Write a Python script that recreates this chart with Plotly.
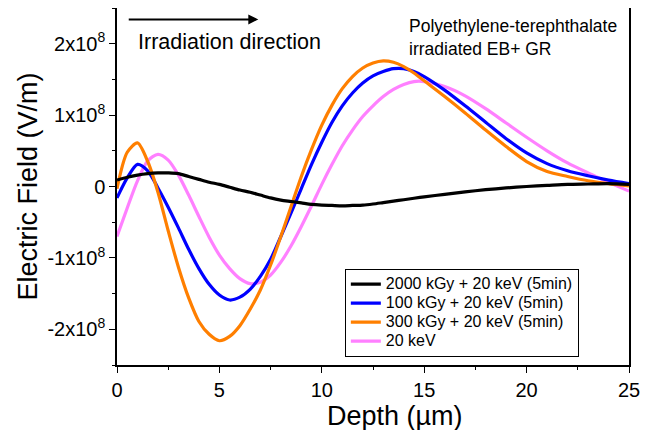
import plotly.graph_objects as go

# Depth in micrometres
depth = [0, 0.5, 1, 1.5, 2, 2.5, 3, 3.5, 4, 4.5, 5, 5.5, 6, 6.5, 7, 7.5, 8, 8.5, 9, 9.5,
         10, 10.5, 11, 11.5, 12, 12.5, 13, 13.5, 14, 14.5, 15, 16, 17, 18, 19, 20, 21, 22, 23, 24, 25]

# Electric field, in units of 1e8 V/m
e_2000 = [0.09, 0.13, 0.16, 0.18, 0.19, 0.19, 0.18, 0.14, 0.10, 0.06, 0.03, -0.01, -0.05, -0.08, -0.12,
          -0.16, -0.19, -0.21, -0.23, -0.25, -0.26, -0.265, -0.27, -0.265, -0.26, -0.245, -0.225, -0.205,
          -0.185, -0.165, -0.145, -0.11, -0.075, -0.045, -0.02, 0.0, 0.015, 0.03, 0.035, 0.04, 0.03]
e_100 = [-0.16, 0.12, 0.31, 0.22, -0.02, -0.29, -0.58, -0.88, -1.15, -1.37, -1.52, -1.59, -1.55, -1.44,
         -1.26, -1.02, -0.70, -0.37, -0.03, 0.31, 0.62, 0.90, 1.13, 1.31, 1.45, 1.55, 1.61, 1.65, 1.65,
         1.61, 1.54, 1.35, 1.13, 0.90, 0.67, 0.47, 0.32, 0.22, 0.15, 0.09, 0.04]
e_300 = [-0.03, 0.48, 0.61, 0.35, -0.08, -0.62, -1.13, -1.56, -1.89, -2.07, -2.16, -2.10, -1.95, -1.72,
         -1.45, -1.10, -0.70, -0.28, 0.14, 0.52, 0.86, 1.14, 1.37, 1.54, 1.66, 1.73, 1.76, 1.74, 1.68,
         1.59, 1.48, 1.26, 1.03, 0.79, 0.56, 0.35, 0.21, 0.14, 0.08, 0.04, 0.01]
e_20kev = [-0.70, -0.30, 0.08, 0.36, 0.45, 0.37, 0.16, -0.12, -0.42, -0.71, -0.96, -1.15, -1.29, -1.36,
           -1.34, -1.24, -1.06, -0.83, -0.56, -0.27, 0.03, 0.31, 0.57, 0.79, 0.98, 1.13, 1.26, 1.36,
           1.43, 1.47, 1.47, 1.40, 1.27, 1.09, 0.89, 0.69, 0.50, 0.33, 0.19, 0.06, -0.065]

series = [
    ("2000 kGy + 20 keV (5min)", e_2000, "black"),
    ("100 kGy + 20 keV (5min)", e_100, "#0000ff"),
    ("300 kGy + 20 keV (5min)", e_300, "#ff7f00"),
    ("20 keV", e_20kev, "#ff80ff"),
]

y_tickvals = [-2e8, -1e8, 0, 1e8, 2e8]
y_ticktext = ["-2x10<sup>8</sup>", "-1x10<sup>8</sup>", "0", "1x10<sup>8</sup>", "2x10<sup>8</sup>"]
x_tickvals = [0, 5, 10, 15, 20, 25]

font = "Liberation Sans, Arial, sans-serif"

fig = go.Figure()
# draw order: pink at back, black on top
for name, vals, color in [series[3], series[1], series[2], series[0]]:
    fig.add_trace(go.Scatter(
        x=depth, y=[v * 1e8 for v in vals], mode="lines",
        # bigger text than the legend font keeps the rows tight like the original
        name=f"<span style='font-size:16px'>{name}</span>",
        legendrank=[s[0] for s in series].index(name),
        line=dict(color=color, width=3.2, shape="spline", smoothing=0.8),
    ))

# page body has an 8px margin, so the figure is a bit smaller than the window
fig.update_layout(
    width=646, height=422,
    margin=dict(l=109, r=25, t=0, b=65),
    paper_bgcolor="white", plot_bgcolor="white",
    font=dict(family=font, color="black"),
    showlegend=True,
    legend=dict(
        x=0.445, y=0.27, xanchor="left", yanchor="top",
        bgcolor="white", bordercolor="black", borderwidth=1,
        font=dict(size=12.3), traceorder="normal",
        tracegroupgap=0, itemwidth=30,
    ),
)

fig.update_xaxes(
    range=[0, 25], tickvals=x_tickvals, automargin=False,
    showline=True, linecolor="black", linewidth=1.5, mirror=True,
    ticks="outside", ticklen=6, tickwidth=1.2, tickcolor="black",
    minor=dict(dtick=2.5, ticks="outside", ticklen=3, tickcolor="black"),
    tickfont=dict(size=20), showgrid=False, zeroline=False,
)
fig.update_yaxes(
    range=[-2.5e8, 2.5e8], tickvals=y_tickvals, ticktext=y_ticktext, automargin=False,
    showline=True, linecolor="black", linewidth=1.5, mirror=True,
    ticks="outside", ticklen=6, tickwidth=1.2, tickcolor="black",
    minor=dict(dtick=0.5e8, ticks="outside", ticklen=3, tickcolor="black"),
    tickfont=dict(size=20), showgrid=False, zeroline=False,
    title=dict(text="Electric Field (V/m)", font=dict(size=27), standoff=2),
)

# x axis title sits a little right of centre in the original
fig.add_annotation(x=0.543, y=-0.143, xref="paper", yref="paper", xanchor="center", yanchor="middle",
                   text="Depth (µm)", showarrow=False, font=dict(size=27))

# irradiation direction arrow and label
fig.add_annotation(x=6.9, y=2.34e8, ax=0.5, ay=2.34e8, xref="x", yref="y", axref="x", ayref="y",
                   text="", showarrow=True, arrowhead=2, arrowsize=1, arrowwidth=2, arrowcolor="black")
fig.add_annotation(x=0.95, y=2.03e8, xref="x", yref="y", xanchor="left", yanchor="middle",
                   text="Irradiation direction", showarrow=False, font=dict(size=21.5))
fig.add_annotation(x=14.15, y=2.09e8, xref="x", yref="y", xanchor="left", yanchor="middle",
                   text="Polyethylene-terephthalate<br>irradiated EB+ GR", showarrow=False,
                   align="left", font=dict(size=17.5))

fig.write_html("out.html")
